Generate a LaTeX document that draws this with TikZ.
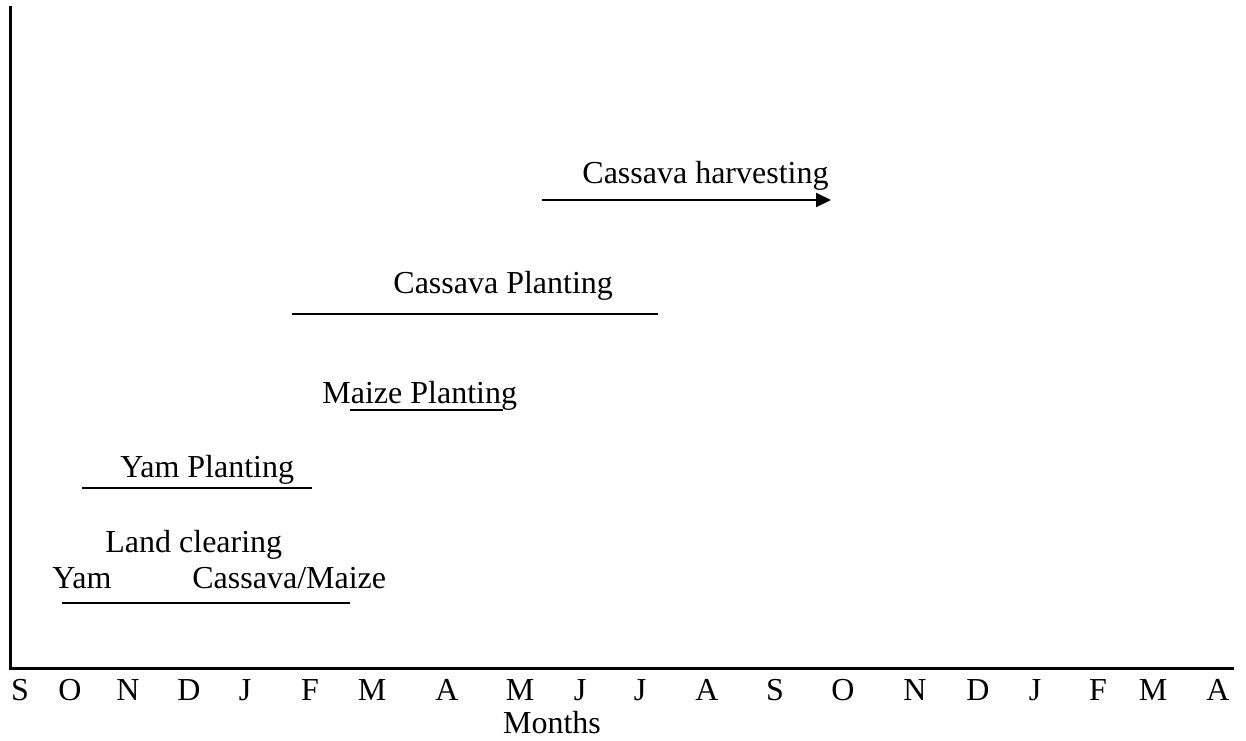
\documentclass[tikz,border=0pt]{standalone}
\usepackage{fontspec}
\setmainfont{Liberation Serif}
\usetikzlibrary{arrows.meta}
\begin{document}
\begin{tikzpicture}[x=0.5pt,y=-0.5pt,
  lbl/.style={inner sep=0pt,anchor=base west,font=\fontsize{16}{19}\selectfont},
  mon/.style={inner sep=0pt,anchor=base,font=\fontsize{16}{19}\selectfont},
  axis/.style={line width=1.5pt},
  bar/.style={line width=1pt}]
\useasboundingbox (0,0) rectangle (1246,740);
% axes
\coordinate (top) at (10,6);
\coordinate (origin) at (10,668);
\coordinate (xend) at (1234,668);
\draw[axis] (top) -- (origin) -- (xend);
% month labels
\foreach \x/\m [count=\i] in {20/S,70/O,128/N,189/D,245/J,310/F,372/M,447/A,520/M,580/J,640/J,707/A,775/S,843/O,915/N,978/D,1035/J,1098/F,1153/M,1218/A}
  \node[mon] (m\i) at (\x,700) {\m};
\node[mon] (months) at (552,733) {Months};
% activities
\node[lbl] (harv) at (582,183) {Cassava harvesting};
\coordinate (h1) at (542,200); \coordinate (h2) at (831,200);
\draw[bar,-{Triangle[length=7.5pt,width=7pt]}] (h1) -- (h2);

\node[lbl] (cplant) at (393,293) {Cassava Planting};
\coordinate (c1) at (292,314); \coordinate (c2) at (658,314);
\draw[bar] (c1) -- (c2);

\node[lbl] (mplant) at (322,403) {Maize Planting};
\coordinate (mz1) at (350,410); \coordinate (mz2) at (503,410);
\draw[bar] (mz1) -- (mz2);

\node[lbl] (yplant) at (120,477) {Yam Planting};
\coordinate (y1) at (82,488); \coordinate (y2) at (312,488);
\draw[bar] (y1) -- (y2);

\node[lbl] (land) at (105,552) {Land clearing};
\node[lbl] (yam) at (52,588) {Yam};
\node[lbl] (cm) at (192,588) {Cassava/Maize};
\coordinate (l1) at (62,603); \coordinate (l2) at (350,603);
\draw[bar] (l1) -- (l2);
\end{tikzpicture}
\end{document}
